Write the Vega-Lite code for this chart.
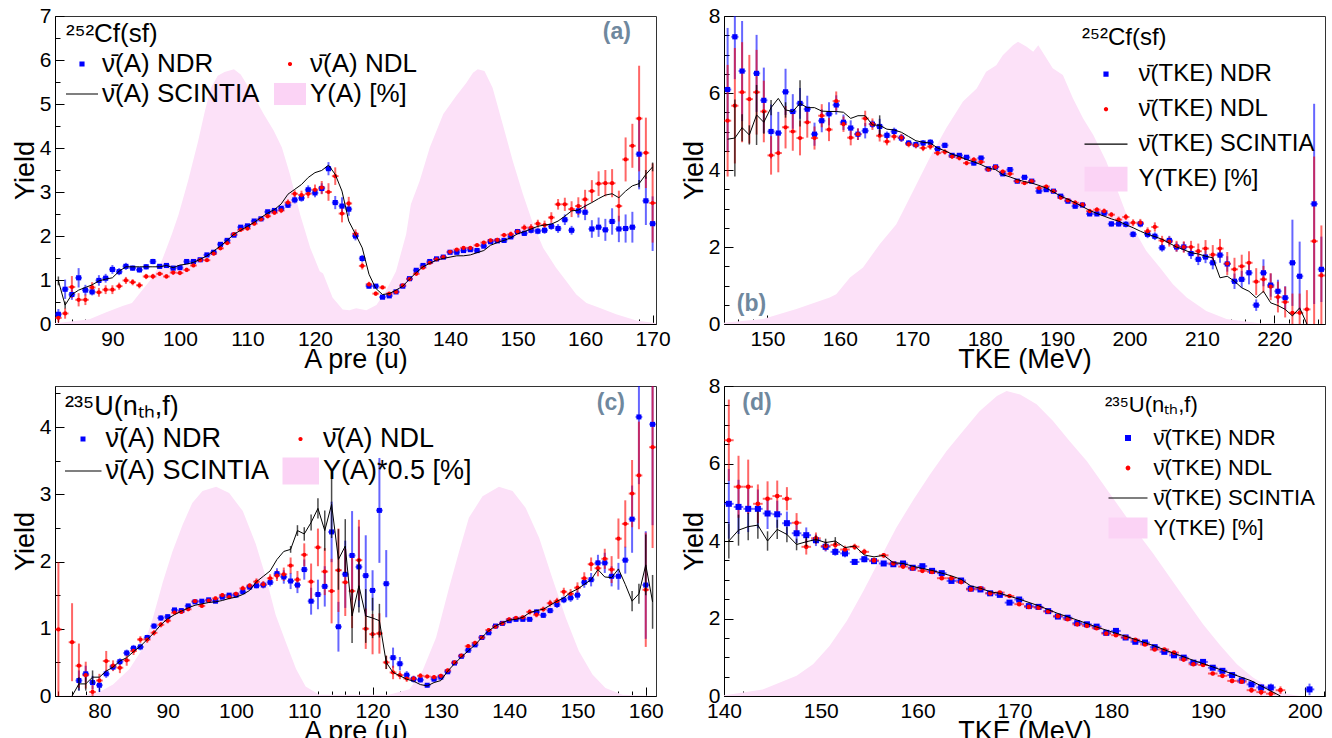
{
"$schema": "https://vega.github.io/schema/vega-lite/v6.json",
"padding": {"left": 10, "top": 4, "right": 0, "bottom": 0},
"background": "white",
"columns": 2,
"spacing": {"row": 62, "column": 68},
"bounds": "flush",
"resolve": {"scale": {"color": "independent", "shape": "independent", "stroke": "independent", "x": "independent", "y": "independent"}, "legend": {"color": "independent", "shape": "independent", "stroke": "independent"}},
"config": {
 "font": "Liberation Sans",
 "view": {"stroke": "#333333", "strokeWidth": 1},
 "axis": {"grid": false, "domainColor": "#000000", "tickColor": "#000000", "labelColor": "#000000", "titleColor": "#000000", "labelFont": "Liberation Sans", "titleFont": "Liberation Sans", "labelFontSize": 21, "titleFontSize": 27, "titleFontWeight": "normal", "tickSize": -9, "labelPadding": 13, "titlePadding": 0, "labelOverlap": false, "labelFlush": false, "labelBound": false, "domainWidth": 1, "tickWidth": 1, "format": "d"},
 "axisX": {"titlePadding": -3},
 "legend": {"orient": "none", "padding": 0, "labelFont": "Liberation Sans", "titleFont": "Liberation Sans", "titleFontWeight": "normal", "labelColor": "#000000", "titleColor": "#000000", "labelLimit": 500, "titleLimit": 500, "symbolStrokeWidth": 1.2}
},
"datasets": {
"aB": [{"x":82,"y":0.22,"e":0.12},{"x":83,"y":0.79,"e":0.22},{"x":84,"y":0.67,"e":0.12},{"x":85,"y":1.05,"e":0.22},{"x":86,"y":0.77,"e":0.12},{"x":87,"y":0.73,"e":0.08},{"x":88,"y":0.99,"e":0.12},{"x":89,"y":1.04,"e":0.1},{"x":90,"y":1.24,"e":0.1},{"x":91,"y":1.19,"e":0.08},{"x":92,"y":1.31,"e":0.08},{"x":93,"y":1.27,"e":0.06},{"x":94,"y":1.23,"e":0.06},{"x":95,"y":1.30,"e":0.06},{"x":96,"y":1.42,"e":0.06},{"x":97,"y":1.31,"e":0.05},{"x":98,"y":1.33,"e":0.05},{"x":99,"y":1.27,"e":0.05},{"x":100,"y":1.28,"e":0.05},{"x":101,"y":1.42,"e":0.04},{"x":102,"y":1.42,"e":0.04},{"x":103,"y":1.46,"e":0.04},{"x":104,"y":1.57,"e":0.04},{"x":105,"y":1.63,"e":0.04},{"x":106,"y":1.81,"e":0.04},{"x":107,"y":1.90,"e":0.04},{"x":108,"y":2.02,"e":0.04},{"x":109,"y":2.20,"e":0.04},{"x":110,"y":2.23,"e":0.04},{"x":111,"y":2.34,"e":0.04},{"x":112,"y":2.39,"e":0.04},{"x":113,"y":2.55,"e":0.04},{"x":114,"y":2.58,"e":0.05},{"x":115,"y":2.63,"e":0.05},{"x":116,"y":2.70,"e":0.06},{"x":117,"y":2.82,"e":0.08},{"x":118,"y":2.86,"e":0.08},{"x":119,"y":3.05,"e":0.1},{"x":120,"y":2.98,"e":0.1},{"x":121,"y":3.08,"e":0.12},{"x":122,"y":3.53,"e":0.15},{"x":123,"y":2.76,"e":0.15},{"x":124,"y":2.68,"e":0.2},{"x":125,"y":2.61,"e":0.15},{"x":126,"y":2.00,"e":0.1},{"x":127,"y":1.49,"e":0.08},{"x":128,"y":0.86,"e":0.05},{"x":129,"y":0.86,"e":0.04},{"x":130,"y":0.61,"e":0.03},{"x":131,"y":0.64,"e":0.03},{"x":132,"y":0.73,"e":0.03},{"x":133,"y":0.86,"e":0.03},{"x":134,"y":1.03,"e":0.03},{"x":135,"y":1.22,"e":0.03},{"x":136,"y":1.33,"e":0.03},{"x":137,"y":1.42,"e":0.03},{"x":138,"y":1.48,"e":0.03},{"x":139,"y":1.52,"e":0.03},{"x":140,"y":1.63,"e":0.03},{"x":141,"y":1.63,"e":0.03},{"x":142,"y":1.67,"e":0.03},{"x":143,"y":1.69,"e":0.03},{"x":144,"y":1.67,"e":0.03},{"x":145,"y":1.77,"e":0.04},{"x":146,"y":1.87,"e":0.04},{"x":147,"y":1.89,"e":0.04},{"x":148,"y":1.90,"e":0.05},{"x":149,"y":1.98,"e":0.05},{"x":150,"y":2.10,"e":0.06},{"x":151,"y":2.06,"e":0.06},{"x":152,"y":2.13,"e":0.07},{"x":153,"y":2.11,"e":0.07},{"x":154,"y":2.13,"e":0.08},{"x":155,"y":2.22,"e":0.08},{"x":156,"y":2.17,"e":0.1},{"x":157,"y":2.37,"e":0.12},{"x":158,"y":2.13,"e":0.1},{"x":159,"y":2.57,"e":0.15},{"x":160,"y":2.54,"e":0.18},{"x":161,"y":2.16,"e":0.2},{"x":162,"y":2.20,"e":0.22},{"x":163,"y":2.14,"e":0.25},{"x":164,"y":2.33,"e":0.3},{"x":165,"y":2.16,"e":0.3},{"x":166,"y":2.17,"e":0.32},{"x":167,"y":2.20,"e":0.35},{"x":168,"y":3.86,"e":0.8},{"x":169,"y":2.80,"e":0.55},{"x":170,"y":2.28,"e":0.62}],
"aR": [{"x":82,"y":0.14,"e":0.1},{"x":83,"y":0.24,"e":0.12},{"x":84,"y":0.84,"e":0.25},{"x":85,"y":0.55,"e":0.15},{"x":86,"y":0.55,"e":0.12},{"x":87,"y":0.83,"e":0.12},{"x":88,"y":0.72,"e":0.1},{"x":89,"y":0.78,"e":0.1},{"x":90,"y":0.78,"e":0.1},{"x":91,"y":0.86,"e":0.08},{"x":92,"y":0.99,"e":0.08},{"x":93,"y":0.95,"e":0.07},{"x":94,"y":0.88,"e":0.07},{"x":95,"y":1.08,"e":0.06},{"x":96,"y":1.08,"e":0.06},{"x":97,"y":1.14,"e":0.05},{"x":98,"y":1.08,"e":0.05},{"x":99,"y":1.17,"e":0.05},{"x":100,"y":1.16,"e":0.05},{"x":101,"y":1.23,"e":0.05},{"x":102,"y":1.33,"e":0.04},{"x":103,"y":1.45,"e":0.04},{"x":104,"y":1.45,"e":0.04},{"x":105,"y":1.60,"e":0.04},{"x":106,"y":1.72,"e":0.04},{"x":107,"y":1.84,"e":0.04},{"x":108,"y":2.04,"e":0.04},{"x":109,"y":2.14,"e":0.04},{"x":110,"y":2.17,"e":0.04},{"x":111,"y":2.28,"e":0.04},{"x":112,"y":2.38,"e":0.04},{"x":113,"y":2.45,"e":0.05},{"x":114,"y":2.53,"e":0.05},{"x":115,"y":2.58,"e":0.06},{"x":116,"y":2.76,"e":0.07},{"x":117,"y":2.96,"e":0.08},{"x":118,"y":2.93,"e":0.1},{"x":119,"y":2.96,"e":0.1},{"x":120,"y":3.05,"e":0.12},{"x":121,"y":3.10,"e":0.15},{"x":122,"y":3.00,"e":0.2},{"x":123,"y":3.36,"e":0.2},{"x":124,"y":2.51,"e":0.2},{"x":125,"y":2.74,"e":0.15},{"x":126,"y":2.05,"e":0.1},{"x":127,"y":1.32,"e":0.08},{"x":128,"y":0.90,"e":0.06},{"x":129,"y":0.69,"e":0.05},{"x":130,"y":0.83,"e":0.04},{"x":131,"y":0.69,"e":0.03},{"x":132,"y":0.73,"e":0.03},{"x":133,"y":0.88,"e":0.03},{"x":134,"y":1.02,"e":0.03},{"x":135,"y":1.14,"e":0.03},{"x":136,"y":1.28,"e":0.03},{"x":137,"y":1.39,"e":0.03},{"x":138,"y":1.47,"e":0.03},{"x":139,"y":1.52,"e":0.03},{"x":140,"y":1.64,"e":0.03},{"x":141,"y":1.69,"e":0.03},{"x":142,"y":1.73,"e":0.03},{"x":143,"y":1.73,"e":0.03},{"x":144,"y":1.79,"e":0.04},{"x":145,"y":1.85,"e":0.04},{"x":146,"y":1.90,"e":0.04},{"x":147,"y":1.91,"e":0.05},{"x":148,"y":2.02,"e":0.05},{"x":149,"y":2.04,"e":0.06},{"x":150,"y":2.10,"e":0.06},{"x":151,"y":2.19,"e":0.07},{"x":152,"y":2.19,"e":0.08},{"x":153,"y":2.28,"e":0.09},{"x":154,"y":2.25,"e":0.1},{"x":155,"y":2.42,"e":0.12},{"x":156,"y":2.72,"e":0.12},{"x":157,"y":2.72,"e":0.15},{"x":158,"y":2.61,"e":0.18},{"x":159,"y":2.68,"e":0.2},{"x":160,"y":2.83,"e":0.22},{"x":161,"y":3.02,"e":0.25},{"x":162,"y":3.19,"e":0.28},{"x":163,"y":3.20,"e":0.3},{"x":164,"y":3.20,"e":0.32},{"x":165,"y":2.68,"e":0.35},{"x":166,"y":3.74,"e":0.5},{"x":167,"y":4.05,"e":0.5},{"x":168,"y":4.67,"e":1.2},{"x":169,"y":3.89,"e":0.8},{"x":170,"y":2.75,"e":0.9}],
"aL": [{"x":82,"y":0.98},{"x":83,"y":0.43},{"x":84,"y":0.67},{"x":85,"y":0.77},{"x":86,"y":0.83},{"x":87,"y":0.89},{"x":88,"y":0.98},{"x":89,"y":1.02},{"x":90,"y":1.05},{"x":91,"y":1.20},{"x":92,"y":1.30},{"x":93,"y":1.30},{"x":94,"y":1.30},{"x":95,"y":1.30},{"x":96,"y":1.30},{"x":97,"y":1.30},{"x":98,"y":1.33},{"x":99,"y":1.28},{"x":100,"y":1.34},{"x":101,"y":1.36},{"x":102,"y":1.40},{"x":103,"y":1.47},{"x":104,"y":1.55},{"x":105,"y":1.66},{"x":106,"y":1.77},{"x":107,"y":1.90},{"x":108,"y":2.04},{"x":109,"y":2.13},{"x":110,"y":2.22},{"x":111,"y":2.31},{"x":112,"y":2.42},{"x":113,"y":2.52},{"x":114,"y":2.60},{"x":115,"y":2.73},{"x":116,"y":2.95},{"x":117,"y":3.06},{"x":118,"y":3.17},{"x":119,"y":3.33},{"x":120,"y":3.44},{"x":121,"y":3.49},{"x":122,"y":3.61},{"x":123,"y":3.40},{"x":124,"y":3.02},{"x":125,"y":2.34},{"x":126,"y":2.04},{"x":127,"y":1.73},{"x":128,"y":1.13},{"x":129,"y":0.81},{"x":130,"y":0.67},{"x":131,"y":0.69},{"x":132,"y":0.77},{"x":133,"y":0.86},{"x":134,"y":1.02},{"x":135,"y":1.17},{"x":136,"y":1.30},{"x":137,"y":1.38},{"x":138,"y":1.45},{"x":139,"y":1.49},{"x":140,"y":1.52},{"x":141,"y":1.55},{"x":142,"y":1.55},{"x":143,"y":1.57},{"x":144,"y":1.62},{"x":145,"y":1.67},{"x":146,"y":1.79},{"x":147,"y":1.85},{"x":148,"y":1.90},{"x":149,"y":1.96},{"x":150,"y":2.05},{"x":151,"y":2.10},{"x":152,"y":2.16},{"x":153,"y":2.22},{"x":154,"y":2.25},{"x":155,"y":2.27},{"x":156,"y":2.34},{"x":157,"y":2.45},{"x":158,"y":2.57},{"x":159,"y":2.59},{"x":160,"y":2.68},{"x":161,"y":2.76},{"x":162,"y":2.85},{"x":163,"y":2.93},{"x":164,"y":2.96},{"x":165,"y":2.87},{"x":166,"y":3.02},{"x":167,"y":3.14},{"x":168,"y":3.19},{"x":169,"y":3.40},{"x":170,"y":3.57}],
"aE": [{"x":82,"y":0.98,"e":0.1},{"x":83,"y":0.43,"e":0.08},{"x":168,"y":3.19,"e":0.08},{"x":169,"y":3.40,"e":0.1},{"x":170,"y":3.57,"e":0.1}],
"aY": [{"x":81.5,"y":0.02},{"x":82.2,"y":0.03},{"x":86.6,"y":0.11},{"x":89.0,"y":0.26},{"x":91.5,"y":0.41},{"x":92.9,"y":0.48},{"x":93.9,"y":0.67},{"x":95.9,"y":1.05},{"x":97.3,"y":1.43},{"x":98.8,"y":2.04},{"x":99.8,"y":2.49},{"x":101.2,"y":3.25},{"x":102.7,"y":4.16},{"x":103.7,"y":4.84},{"x":104.6,"y":5.37},{"x":105.6,"y":5.64},{"x":106.6,"y":5.73},{"x":108.0,"y":5.79},{"x":109.0,"y":5.67},{"x":110.5,"y":5.30},{"x":112.4,"y":4.77},{"x":113.9,"y":4.39},{"x":115.1,"y":4.01},{"x":116.3,"y":3.40},{"x":117.8,"y":2.49},{"x":119.3,"y":1.73},{"x":120.7,"y":1.20},{"x":121.2,"y":1.15},{"x":122.6,"y":0.60},{"x":124.1,"y":0.33},{"x":125.1,"y":0.31},{"x":126.1,"y":0.36},{"x":127.6,"y":0.31},{"x":129.1,"y":0.43},{"x":130.5,"y":0.75},{"x":132.0,"y":1.20},{"x":133.5,"y":2.04},{"x":134.2,"y":2.72},{"x":135.5,"y":3.25},{"x":137.0,"y":4.01},{"x":139.0,"y":4.77},{"x":140.9,"y":5.18},{"x":142.4,"y":5.48},{"x":143.4,"y":5.71},{"x":144.1,"y":5.79},{"x":145.1,"y":5.75},{"x":146.3,"y":5.37},{"x":147.8,"y":4.54},{"x":149.3,"y":3.70},{"x":150.8,"y":2.95},{"x":152.3,"y":2.27},{"x":153.8,"y":1.73},{"x":155.7,"y":1.28},{"x":157.2,"y":0.98},{"x":158.7,"y":0.67},{"x":160.2,"y":0.48},{"x":162.1,"y":0.37},{"x":164.6,"y":0.22},{"x":167.6,"y":0.08},{"x":170.0,"y":0.03},{"x":170.5,"y":0.02}],
"bB": [{"x":144.5,"y":6.09,"e":1.6},{"x":145.5,"y":7.46,"e":1.1},{"x":146.5,"y":6.57,"e":1.3},{"x":148.5,"y":6.51,"e":1.0},{"x":149.5,"y":5.81,"e":0.85},{"x":150.5,"y":5.00,"e":0.7},{"x":151.5,"y":4.96,"e":0.55},{"x":152.5,"y":6.03,"e":0.6},{"x":153.5,"y":5.52,"e":0.45},{"x":154.5,"y":5.73,"e":0.4},{"x":155.5,"y":5.58,"e":0.35},{"x":156.5,"y":4.93,"e":0.3},{"x":157.5,"y":5.28,"e":0.3},{"x":158.5,"y":5.46,"e":0.3},{"x":159.5,"y":5.69,"e":0.25},{"x":160.5,"y":5.24,"e":0.2},{"x":161.5,"y":5.09,"e":0.2},{"x":162.5,"y":4.93,"e":0.15},{"x":163.5,"y":5.02,"e":0.2},{"x":164.5,"y":5.19,"e":0.1},{"x":165.5,"y":5.13,"e":0.2},{"x":166.5,"y":4.90,"e":0.1},{"x":167.5,"y":5.00,"e":0.1},{"x":168.5,"y":4.83,"e":0.1},{"x":169.5,"y":4.70,"e":0.08},{"x":170.5,"y":4.66,"e":0.08},{"x":171.5,"y":4.70,"e":0.08},{"x":172.5,"y":4.72,"e":0.08},{"x":173.5,"y":4.55,"e":0.07},{"x":174.5,"y":4.64,"e":0.07},{"x":175.5,"y":4.38,"e":0.06},{"x":176.5,"y":4.38,"e":0.06},{"x":177.5,"y":4.33,"e":0.06},{"x":178.5,"y":4.18,"e":0.06},{"x":179.5,"y":4.31,"e":0.06},{"x":180.5,"y":4.03,"e":0.05},{"x":181.5,"y":4.08,"e":0.05},{"x":182.5,"y":3.90,"e":0.05},{"x":183.5,"y":4.01,"e":0.05},{"x":184.5,"y":3.71,"e":0.05},{"x":185.5,"y":3.81,"e":0.05},{"x":186.5,"y":3.71,"e":0.05},{"x":187.5,"y":3.45,"e":0.05},{"x":188.5,"y":3.49,"e":0.05},{"x":189.5,"y":3.45,"e":0.05},{"x":190.5,"y":3.32,"e":0.05},{"x":191.5,"y":3.19,"e":0.05},{"x":192.5,"y":3.06,"e":0.06},{"x":193.5,"y":3.09,"e":0.06},{"x":194.5,"y":2.86,"e":0.06},{"x":195.5,"y":2.86,"e":0.06},{"x":196.5,"y":2.88,"e":0.07},{"x":197.5,"y":2.60,"e":0.07},{"x":198.5,"y":2.60,"e":0.07},{"x":199.5,"y":2.59,"e":0.08},{"x":200.5,"y":2.33,"e":0.08},{"x":201.5,"y":2.60,"e":0.09},{"x":202.5,"y":2.33,"e":0.1},{"x":203.5,"y":2.28,"e":0.1},{"x":204.5,"y":1.98,"e":0.1},{"x":205.5,"y":2.17,"e":0.12},{"x":206.5,"y":2.00,"e":0.12},{"x":207.5,"y":2.00,"e":0.13},{"x":208.5,"y":1.83,"e":0.14},{"x":209.5,"y":1.68,"e":0.15},{"x":210.5,"y":1.74,"e":0.16},{"x":211.5,"y":1.59,"e":0.17},{"x":212.5,"y":1.79,"e":0.2},{"x":213.5,"y":1.56,"e":0.2},{"x":214.5,"y":1.11,"e":0.2},{"x":215.5,"y":1.16,"e":0.22},{"x":216.5,"y":1.33,"e":0.3},{"x":217.5,"y":0.49,"e":0.15},{"x":218.5,"y":1.33,"e":0.35},{"x":219.5,"y":1.01,"e":0.3},{"x":220.5,"y":0.85,"e":0.3},{"x":221.5,"y":0.68,"e":0.3},{"x":222.5,"y":1.59,"e":1.12},{"x":223.5,"y":1.24,"e":0.9},{"x":225.5,"y":3.12,"e":2.6},{"x":226.5,"y":1.42,"e":0.85}],
"bR": [{"x":144.5,"y":5.28,"e":1.45},{"x":145.5,"y":5.67,"e":1.5},{"x":146.5,"y":6.02,"e":1.3},{"x":147.5,"y":5.84,"e":1.15},{"x":148.5,"y":6.02,"e":1.1},{"x":149.5,"y":5.52,"e":0.8},{"x":150.5,"y":4.38,"e":0.5},{"x":151.5,"y":4.44,"e":0.5},{"x":152.5,"y":5.11,"e":0.55},{"x":153.5,"y":5.00,"e":0.5},{"x":154.5,"y":4.83,"e":0.45},{"x":155.5,"y":5.24,"e":0.4},{"x":156.5,"y":4.83,"e":0.3},{"x":157.5,"y":5.41,"e":0.3},{"x":158.5,"y":5.05,"e":0.3},{"x":159.5,"y":5.79,"e":0.25},{"x":160.5,"y":5.19,"e":0.2},{"x":161.5,"y":4.84,"e":0.2},{"x":162.5,"y":4.93,"e":0.15},{"x":163.5,"y":5.34,"e":0.2},{"x":164.5,"y":5.19,"e":0.15},{"x":165.5,"y":4.89,"e":0.15},{"x":166.5,"y":4.74,"e":0.1},{"x":167.5,"y":4.87,"e":0.1},{"x":168.5,"y":4.84,"e":0.1},{"x":169.5,"y":4.67,"e":0.08},{"x":170.5,"y":4.64,"e":0.08},{"x":171.5,"y":4.57,"e":0.08},{"x":172.5,"y":4.61,"e":0.08},{"x":173.5,"y":4.44,"e":0.07},{"x":174.5,"y":4.47,"e":0.07},{"x":175.5,"y":4.35,"e":0.06},{"x":176.5,"y":4.31,"e":0.06},{"x":177.5,"y":4.18,"e":0.06},{"x":178.5,"y":4.27,"e":0.06},{"x":179.5,"y":4.21,"e":0.06},{"x":180.5,"y":4.01,"e":0.05},{"x":181.5,"y":4.08,"e":0.05},{"x":182.5,"y":3.96,"e":0.05},{"x":183.5,"y":3.90,"e":0.05},{"x":184.5,"y":3.71,"e":0.05},{"x":185.5,"y":3.66,"e":0.05},{"x":186.5,"y":3.71,"e":0.05},{"x":187.5,"y":3.53,"e":0.05},{"x":188.5,"y":3.57,"e":0.05},{"x":189.5,"y":3.45,"e":0.05},{"x":190.5,"y":3.28,"e":0.05},{"x":191.5,"y":3.21,"e":0.05},{"x":192.5,"y":3.15,"e":0.06},{"x":193.5,"y":3.10,"e":0.06},{"x":194.5,"y":2.93,"e":0.06},{"x":195.5,"y":2.97,"e":0.06},{"x":196.5,"y":2.93,"e":0.07},{"x":197.5,"y":2.84,"e":0.07},{"x":198.5,"y":2.71,"e":0.08},{"x":199.5,"y":2.78,"e":0.08},{"x":200.5,"y":2.63,"e":0.09},{"x":201.5,"y":2.63,"e":0.1},{"x":202.5,"y":2.41,"e":0.1},{"x":203.5,"y":2.52,"e":0.12},{"x":204.5,"y":2.17,"e":0.12},{"x":205.5,"y":2.14,"e":0.13},{"x":206.5,"y":2.02,"e":0.14},{"x":207.5,"y":2.00,"e":0.15},{"x":208.5,"y":2.00,"e":0.16},{"x":209.5,"y":1.89,"e":0.2},{"x":210.5,"y":1.96,"e":0.22},{"x":211.5,"y":1.80,"e":0.25},{"x":212.5,"y":1.96,"e":0.25},{"x":213.5,"y":1.57,"e":0.3},{"x":214.5,"y":1.42,"e":0.3},{"x":215.5,"y":1.50,"e":0.3},{"x":216.5,"y":1.59,"e":0.3},{"x":217.5,"y":1.10,"e":0.35},{"x":218.5,"y":1.16,"e":0.35},{"x":219.5,"y":0.97,"e":0.35},{"x":220.5,"y":0.70,"e":0.4},{"x":221.5,"y":0.57,"e":0.4},{"x":222.5,"y":0.29,"e":0.5},{"x":223.5,"y":0.29,"e":0.5},{"x":224.5,"y":0.38,"e":0.5},{"x":225.5,"y":2.15,"e":2.2},{"x":226.5,"y":1.26,"e":1.3}],
"bL": [{"x":144.5,"y":4.80},{"x":145.5,"y":4.83},{"x":146.5,"y":5.10},{"x":147.5,"y":4.91},{"x":148.5,"y":5.43},{"x":149.5,"y":5.24},{"x":150.5,"y":5.62},{"x":151.5,"y":5.86},{"x":152.5,"y":5.56},{"x":153.5,"y":5.52},{"x":154.5,"y":5.73},{"x":155.5,"y":5.62},{"x":156.5,"y":5.62},{"x":157.5,"y":5.53},{"x":158.5,"y":5.52},{"x":159.5,"y":5.52},{"x":160.5,"y":5.50},{"x":161.5,"y":5.34},{"x":162.5,"y":5.41},{"x":163.5,"y":5.41},{"x":164.5,"y":5.17},{"x":165.5,"y":5.16},{"x":166.5,"y":5.06},{"x":167.5,"y":5.04},{"x":168.5,"y":4.98},{"x":169.5,"y":4.87},{"x":170.5,"y":4.76},{"x":171.5,"y":4.72},{"x":172.5,"y":4.70},{"x":173.5,"y":4.57},{"x":174.5,"y":4.50},{"x":175.5,"y":4.41},{"x":176.5,"y":4.35},{"x":177.5,"y":4.27},{"x":178.5,"y":4.21},{"x":179.5,"y":4.14},{"x":180.5,"y":4.05},{"x":181.5,"y":4.01},{"x":182.5,"y":3.88},{"x":183.5,"y":3.82},{"x":184.5,"y":3.75},{"x":185.5,"y":3.70},{"x":186.5,"y":3.66},{"x":187.5,"y":3.60},{"x":188.5,"y":3.53},{"x":189.5,"y":3.43},{"x":190.5,"y":3.32},{"x":191.5,"y":3.24},{"x":192.5,"y":3.15},{"x":193.5,"y":3.05},{"x":194.5,"y":2.95},{"x":195.5,"y":2.87},{"x":196.5,"y":2.80},{"x":197.5,"y":2.73},{"x":198.5,"y":2.67},{"x":199.5,"y":2.58},{"x":200.5,"y":2.50},{"x":201.5,"y":2.41},{"x":202.5,"y":2.33},{"x":203.5,"y":2.27},{"x":204.5,"y":2.20},{"x":205.5,"y":2.10},{"x":206.5,"y":2.00},{"x":207.5,"y":1.93},{"x":208.5,"y":1.85},{"x":209.5,"y":1.82},{"x":210.5,"y":1.76},{"x":211.5,"y":1.72},{"x":212.5,"y":1.20},{"x":213.5,"y":1.24},{"x":214.5,"y":1.11},{"x":215.5,"y":0.94},{"x":216.5,"y":0.85},{"x":217.5,"y":0.68},{"x":218.5,"y":0.85},{"x":219.5,"y":0.55},{"x":220.5,"y":0.48},{"x":221.5,"y":0.38},{"x":222.5,"y":0.21},{"x":223.5,"y":0.42},{"x":224.5,"y":0.0}],
"bE": [{"x":145.5,"y":4.83,"e":1.0},{"x":146.5,"y":5.10,"e":0.35},{"x":147.5,"y":4.91,"e":0.25},{"x":148.5,"y":5.43,"e":0.78},{"x":149.5,"y":5.24,"e":0.3},{"x":150.5,"y":5.62,"e":0.2},{"x":152.5,"y":5.56,"e":0.2},{"x":154.5,"y":5.73,"e":0.6},{"x":165.5,"y":5.16,"e":0.26}],
"bY": [{"x":144.0,"y":0.03},{"x":144.3,"y":0.04},{"x":149.4,"y":0.13},{"x":154,"y":0.39},{"x":157.2,"y":0.60},{"x":158.6,"y":0.69},{"x":159.5,"y":0.77},{"x":161.4,"y":1.21},{"x":163.2,"y":1.47},{"x":165.5,"y":2.07},{"x":167.8,"y":2.59},{"x":170.1,"y":3.45},{"x":172.4,"y":4.31},{"x":174.7,"y":5.09},{"x":177,"y":5.78},{"x":178.9,"y":6.12},{"x":180.2,"y":6.55},{"x":181.6,"y":6.72},{"x":182.5,"y":6.98},{"x":183.9,"y":7.24},{"x":184.6,"y":7.33},{"x":185.8,"y":7.2},{"x":186.7,"y":7.07},{"x":187.4,"y":7.24},{"x":189.4,"y":6.64},{"x":190.8,"y":6.47},{"x":192.2,"y":5.86},{"x":193.6,"y":5.34},{"x":195,"y":4.91},{"x":196.8,"y":4.22},{"x":198.2,"y":3.53},{"x":199.6,"y":2.84},{"x":201,"y":2.33},{"x":202.3,"y":1.90},{"x":204.2,"y":1.47},{"x":206,"y":1.03},{"x":207.9,"y":0.69},{"x":210.6,"y":0.34},{"x":213.4,"y":0.13},{"x":218,"y":0.02},{"x":227,"y":0}],
"cB": [{"x":77,"y":0.23,"e":0.15},{"x":78,"y":0.33,"e":0.12},{"x":79,"y":0.20,"e":0.1},{"x":80,"y":0.16,"e":0.1},{"x":81,"y":0.33,"e":0.06},{"x":82,"y":0.43,"e":0.05},{"x":83,"y":0.51,"e":0.05},{"x":84,"y":0.64,"e":0.05},{"x":85,"y":0.71,"e":0.05},{"x":86,"y":0.73,"e":0.05},{"x":87,"y":0.87,"e":0.04},{"x":88,"y":1.04,"e":0.04},{"x":89,"y":1.16,"e":0.04},{"x":90,"y":1.18,"e":0.03},{"x":91,"y":1.28,"e":0.03},{"x":92,"y":1.27,"e":0.03},{"x":93,"y":1.34,"e":0.03},{"x":94,"y":1.40,"e":0.03},{"x":95,"y":1.41,"e":0.03},{"x":96,"y":1.43,"e":0.03},{"x":97,"y":1.41,"e":0.03},{"x":98,"y":1.47,"e":0.03},{"x":99,"y":1.50,"e":0.03},{"x":100,"y":1.50,"e":0.03},{"x":101,"y":1.55,"e":0.03},{"x":102,"y":1.62,"e":0.04},{"x":103,"y":1.64,"e":0.04},{"x":104,"y":1.65,"e":0.05},{"x":105,"y":1.69,"e":0.06},{"x":106,"y":1.82,"e":0.08},{"x":107,"y":1.77,"e":0.1},{"x":108,"y":1.71,"e":0.12},{"x":109,"y":1.65,"e":0.12},{"x":110,"y":1.88,"e":0.15},{"x":111,"y":1.41,"e":0.2},{"x":112,"y":1.51,"e":0.22},{"x":113,"y":1.63,"e":0.3},{"x":114,"y":2.44,"e":0.45},{"x":115,"y":1.03,"e":0.37},{"x":116,"y":1.81,"e":0.5},{"x":117,"y":2.09,"e":0.66},{"x":118,"y":1.92,"e":0.6},{"x":119,"y":1.79,"e":0.6},{"x":120,"y":1.57,"e":0.3},{"x":121,"y":2.76,"e":0.78},{"x":122,"y":1.67,"e":0.5},{"x":123,"y":0.57,"e":0.15},{"x":124,"y":0.48,"e":0.1},{"x":125,"y":0.31,"e":0.06},{"x":126,"y":0.25,"e":0.05},{"x":127,"y":0.24,"e":0.04},{"x":128,"y":0.16,"e":0.03},{"x":129,"y":0.25,"e":0.03},{"x":130,"y":0.28,"e":0.03},{"x":131,"y":0.36,"e":0.03},{"x":132,"y":0.49,"e":0.03},{"x":133,"y":0.59,"e":0.03},{"x":134,"y":0.68,"e":0.03},{"x":135,"y":0.76,"e":0.03},{"x":136,"y":0.87,"e":0.03},{"x":137,"y":0.94,"e":0.03},{"x":138,"y":1.04,"e":0.03},{"x":139,"y":1.08,"e":0.03},{"x":140,"y":1.12,"e":0.03},{"x":141,"y":1.14,"e":0.03},{"x":142,"y":1.14,"e":0.03},{"x":143,"y":1.14,"e":0.03},{"x":144,"y":1.25,"e":0.04},{"x":145,"y":1.20,"e":0.04},{"x":146,"y":1.27,"e":0.04},{"x":147,"y":1.36,"e":0.05},{"x":148,"y":1.43,"e":0.05},{"x":149,"y":1.46,"e":0.06},{"x":150,"y":1.50,"e":0.07},{"x":151,"y":1.69,"e":0.08},{"x":152,"y":1.73,"e":0.1},{"x":153,"y":1.98,"e":0.12},{"x":154,"y":1.98,"e":0.15},{"x":155,"y":1.78,"e":0.15},{"x":156,"y":1.78,"e":0.2},{"x":157,"y":2.02,"e":0.2},{"x":158,"y":2.63,"e":0.5},{"x":159,"y":4.15,"e":1.0},{"x":160,"y":1.65,"e":0.8},{"x":161,"y":4.04,"e":1.5}],
"cR": [{"x":74,"y":0.99,"e":1.0},{"x":76,"y":0.80,"e":0.58},{"x":77,"y":0.45,"e":0.33},{"x":78,"y":0.31,"e":0.2},{"x":79,"y":0.06,"e":0.1},{"x":80,"y":0.23,"e":0.1},{"x":81,"y":0.52,"e":0.15},{"x":82,"y":0.45,"e":0.08},{"x":83,"y":0.42,"e":0.08},{"x":84,"y":0.53,"e":0.08},{"x":85,"y":0.67,"e":0.06},{"x":86,"y":0.84,"e":0.05},{"x":87,"y":0.84,"e":0.05},{"x":88,"y":0.94,"e":0.04},{"x":89,"y":1.06,"e":0.04},{"x":90,"y":1.12,"e":0.04},{"x":91,"y":1.24,"e":0.03},{"x":92,"y":1.25,"e":0.03},{"x":93,"y":1.29,"e":0.03},{"x":94,"y":1.41,"e":0.03},{"x":95,"y":1.34,"e":0.03},{"x":96,"y":1.42,"e":0.03},{"x":97,"y":1.45,"e":0.03},{"x":98,"y":1.50,"e":0.03},{"x":99,"y":1.47,"e":0.03},{"x":100,"y":1.52,"e":0.03},{"x":101,"y":1.60,"e":0.04},{"x":102,"y":1.64,"e":0.04},{"x":103,"y":1.70,"e":0.05},{"x":104,"y":1.66,"e":0.05},{"x":105,"y":1.75,"e":0.06},{"x":106,"y":1.79,"e":0.08},{"x":107,"y":1.81,"e":0.1},{"x":108,"y":1.94,"e":0.12},{"x":109,"y":1.73,"e":0.13},{"x":110,"y":2.10,"e":0.17},{"x":111,"y":1.70,"e":0.27},{"x":112,"y":2.21,"e":0.28},{"x":113,"y":1.85,"e":0.35},{"x":114,"y":1.56,"e":0.48},{"x":115,"y":1.87,"e":0.62},{"x":116,"y":1.69,"e":0.5},{"x":117,"y":1.56,"e":0.55},{"x":118,"y":2.02,"e":0.6},{"x":119,"y":1.00,"e":0.3},{"x":120,"y":0.92,"e":0.3},{"x":121,"y":0.93,"e":0.3},{"x":122,"y":0.50,"e":0.1},{"x":123,"y":0.35,"e":0.1},{"x":124,"y":0.31,"e":0.06},{"x":125,"y":0.26,"e":0.05},{"x":126,"y":0.26,"e":0.04},{"x":127,"y":0.30,"e":0.04},{"x":128,"y":0.29,"e":0.03},{"x":129,"y":0.28,"e":0.03},{"x":130,"y":0.30,"e":0.03},{"x":131,"y":0.38,"e":0.03},{"x":132,"y":0.50,"e":0.03},{"x":133,"y":0.60,"e":0.03},{"x":134,"y":0.74,"e":0.03},{"x":135,"y":0.79,"e":0.03},{"x":136,"y":0.87,"e":0.03},{"x":137,"y":0.98,"e":0.03},{"x":138,"y":1.03,"e":0.03},{"x":139,"y":1.08,"e":0.03},{"x":140,"y":1.14,"e":0.03},{"x":141,"y":1.16,"e":0.03},{"x":142,"y":1.17,"e":0.03},{"x":143,"y":1.25,"e":0.04},{"x":144,"y":1.21,"e":0.04},{"x":145,"y":1.29,"e":0.04},{"x":146,"y":1.38,"e":0.05},{"x":147,"y":1.41,"e":0.05},{"x":148,"y":1.55,"e":0.06},{"x":149,"y":1.52,"e":0.07},{"x":150,"y":1.61,"e":0.08},{"x":151,"y":1.75,"e":0.09},{"x":152,"y":1.96,"e":0.1},{"x":153,"y":1.90,"e":0.12},{"x":154,"y":2.04,"e":0.15},{"x":155,"y":1.88,"e":0.2},{"x":156,"y":2.34,"e":0.3},{"x":157,"y":2.56,"e":0.35},{"x":158,"y":3.01,"e":0.5},{"x":159,"y":3.28,"e":0.8},{"x":160,"y":1.58,"e":0.85},{"x":161,"y":3.70,"e":1.5}],
"cL": [{"x":76,"y":0.0},{"x":77,"y":0.18},{"x":78,"y":0.18},{"x":79,"y":0.28},{"x":80,"y":0.28},{"x":81,"y":0.37},{"x":82,"y":0.43},{"x":83,"y":0.52},{"x":84,"y":0.57},{"x":85,"y":0.66},{"x":86,"y":0.74},{"x":87,"y":0.84},{"x":88,"y":0.94},{"x":89,"y":1.06},{"x":90,"y":1.15},{"x":91,"y":1.21},{"x":92,"y":1.26},{"x":93,"y":1.31},{"x":94,"y":1.35},{"x":95,"y":1.37},{"x":96,"y":1.39},{"x":97,"y":1.40},{"x":98,"y":1.42},{"x":99,"y":1.45},{"x":100,"y":1.47},{"x":101,"y":1.51},{"x":102,"y":1.57},{"x":103,"y":1.70},{"x":104,"y":1.78},{"x":105,"y":1.86},{"x":106,"y":2.03},{"x":107,"y":2.15},{"x":108,"y":2.18},{"x":109,"y":2.46},{"x":110,"y":2.41},{"x":111,"y":2.58},{"x":112,"y":2.79},{"x":113,"y":2.46},{"x":114,"y":2.85},{"x":115,"y":2.03},{"x":116,"y":2.23},{"x":117,"y":1.19},{"x":118,"y":1.64},{"x":119,"y":1.19},{"x":120,"y":1.16},{"x":121,"y":1.12},{"x":122,"y":0.50},{"x":123,"y":0.35},{"x":124,"y":0.30},{"x":125,"y":0.25},{"x":126,"y":0.22},{"x":127,"y":0.17},{"x":128,"y":0.15},{"x":129,"y":0.20},{"x":130,"y":0.23},{"x":131,"y":0.37},{"x":132,"y":0.48},{"x":133,"y":0.58},{"x":134,"y":0.67},{"x":135,"y":0.76},{"x":136,"y":0.87},{"x":137,"y":0.97},{"x":138,"y":1.04},{"x":139,"y":1.09},{"x":140,"y":1.13},{"x":141,"y":1.14},{"x":142,"y":1.17},{"x":143,"y":1.24},{"x":144,"y":1.27},{"x":145,"y":1.29},{"x":146,"y":1.35},{"x":147,"y":1.41},{"x":148,"y":1.46},{"x":149,"y":1.54},{"x":150,"y":1.59},{"x":151,"y":1.66},{"x":152,"y":1.73},{"x":153,"y":1.88},{"x":154,"y":1.77},{"x":155,"y":1.76},{"x":156,"y":1.89},{"x":157,"y":1.66},{"x":158,"y":1.41},{"x":159,"y":1.52},{"x":160,"y":1.95},{"x":161,"y":1.40}],
"cE": [{"x":77,"y":0.18,"e":0.1},{"x":78,"y":0.18,"e":0.1},{"x":79,"y":0.28,"e":0.1},{"x":108,"y":2.18,"e":0.05},{"x":109,"y":2.46,"e":0.08},{"x":110,"y":2.41,"e":0.1},{"x":111,"y":2.58,"e":0.12},{"x":112,"y":2.79,"e":0.15},{"x":113,"y":2.46,"e":0.3},{"x":114,"y":2.85,"e":0.5},{"x":115,"y":2.03,"e":0.45},{"x":116,"y":2.23,"e":0.4},{"x":117,"y":1.19,"e":0.4},{"x":118,"y":1.64,"e":0.4},{"x":119,"y":1.19,"e":0.4},{"x":120,"y":1.16,"e":0.3},{"x":121,"y":1.12,"e":0.25},{"x":122,"y":0.50,"e":0.1},{"x":158,"y":1.41,"e":0.15},{"x":159,"y":1.52,"e":0.15},{"x":160,"y":1.95,"e":0.45},{"x":161,"y":1.40,"e":0.4}],
"cY": [{"x":73.5,"y":0},{"x":78,"y":0.01},{"x":80,"y":0.06},{"x":82,"y":0.17},{"x":84.4,"y":0.40},{"x":86.3,"y":0.70},{"x":87.8,"y":1.15},{"x":89.3,"y":1.70},{"x":90.7,"y":2.15},{"x":92.2,"y":2.55},{"x":93.6,"y":2.87},{"x":95.1,"y":3.05},{"x":97.1,"y":3.11},{"x":99,"y":3.02},{"x":101,"y":2.75},{"x":102.9,"y":2.26},{"x":104.4,"y":1.76},{"x":105.8,"y":1.21},{"x":107.3,"y":0.80},{"x":108.8,"y":0.40},{"x":110.2,"y":0.14},{"x":112.2,"y":0.02},{"x":122.4,"y":0.02},{"x":125.4,"y":0.10},{"x":127.3,"y":0.37},{"x":129.3,"y":0.87},{"x":131.2,"y":1.61},{"x":132.7,"y":2.16},{"x":134.1,"y":2.65},{"x":136.1,"y":2.97},{"x":138.5,"y":3.11},{"x":140.5,"y":3.05},{"x":142.4,"y":2.80},{"x":144.4,"y":2.35},{"x":146.3,"y":1.76},{"x":148.3,"y":1.16},{"x":150.2,"y":0.67},{"x":152.2,"y":0.32},{"x":154.1,"y":0.12},{"x":156.6,"y":0.02},{"x":161.5,"y":0}],
"dB": [{"x":140.5,"y":4.96,"e":0.9},{"x":141.5,"y":4.88,"e":0.7},{"x":142.5,"y":4.83,"e":0.6},{"x":143.5,"y":4.83,"e":0.5},{"x":144.5,"y":4.71,"e":0.4},{"x":145.5,"y":4.69,"e":0.35},{"x":146.5,"y":4.46,"e":0.3},{"x":147.5,"y":4.20,"e":0.25},{"x":148.5,"y":4.15,"e":0.2},{"x":149.5,"y":4.02,"e":0.15},{"x":150.5,"y":3.85,"e":0.12},{"x":151.5,"y":3.72,"e":0.1},{"x":152.5,"y":3.68,"e":0.1},{"x":153.5,"y":3.46,"e":0.08},{"x":154.5,"y":3.53,"e":0.08},{"x":155.5,"y":3.48,"e":0.07},{"x":156.5,"y":3.42,"e":0.06},{"x":157.5,"y":3.40,"e":0.05},{"x":158.5,"y":3.42,"e":0.05},{"x":159.5,"y":3.31,"e":0.05},{"x":160.5,"y":3.35,"e":0.05},{"x":161.5,"y":3.23,"e":0.05},{"x":162.5,"y":3.17,"e":0.05},{"x":163.5,"y":2.97,"e":0.05},{"x":164.5,"y":2.98,"e":0.05},{"x":165.5,"y":2.77,"e":0.04},{"x":166.5,"y":2.75,"e":0.04},{"x":167.5,"y":2.65,"e":0.04},{"x":168.5,"y":2.61,"e":0.04},{"x":169.5,"y":2.41,"e":0.04},{"x":170.5,"y":2.49,"e":0.04},{"x":171.5,"y":2.32,"e":0.04},{"x":172.5,"y":2.30,"e":0.04},{"x":173.5,"y":2.19,"e":0.04},{"x":174.5,"y":2.05,"e":0.04},{"x":175.5,"y":2.02,"e":0.04},{"x":176.5,"y":1.88,"e":0.04},{"x":177.5,"y":1.85,"e":0.04},{"x":178.5,"y":1.79,"e":0.04},{"x":179.5,"y":1.63,"e":0.04},{"x":180.5,"y":1.68,"e":0.04},{"x":181.5,"y":1.51,"e":0.04},{"x":182.5,"y":1.40,"e":0.04},{"x":183.5,"y":1.38,"e":0.04},{"x":184.5,"y":1.26,"e":0.04},{"x":185.5,"y":1.14,"e":0.04},{"x":186.5,"y":1.05,"e":0.04},{"x":187.5,"y":0.99,"e":0.04},{"x":188.5,"y":0.86,"e":0.05},{"x":189.5,"y":0.88,"e":0.05},{"x":190.5,"y":0.73,"e":0.05},{"x":191.5,"y":0.65,"e":0.05},{"x":192.5,"y":0.54,"e":0.06},{"x":193.5,"y":0.40,"e":0.06},{"x":194.5,"y":0.30,"e":0.07},{"x":195.5,"y":0.22,"e":0.08},{"x":196.5,"y":0.22,"e":0.1},{"x":200.5,"y":0.17,"e":0.15}],
"dR": [{"x":140.5,"y":6.60,"e":1.05},{"x":141.5,"y":5.40,"e":0.8},{"x":142.5,"y":5.40,"e":0.7},{"x":143.5,"y":4.96,"e":0.5},{"x":144.5,"y":5.09,"e":0.45},{"x":145.5,"y":5.16,"e":0.4},{"x":146.5,"y":5.09,"e":0.3},{"x":147.5,"y":4.47,"e":0.25},{"x":148.5,"y":3.85,"e":0.2},{"x":149.5,"y":4.07,"e":0.15},{"x":150.5,"y":3.87,"e":0.12},{"x":151.5,"y":3.90,"e":0.1},{"x":152.5,"y":3.78,"e":0.1},{"x":153.5,"y":3.85,"e":0.08},{"x":154.5,"y":3.72,"e":0.08},{"x":155.5,"y":3.50,"e":0.07},{"x":156.5,"y":3.63,"e":0.06},{"x":157.5,"y":3.42,"e":0.05},{"x":158.5,"y":3.34,"e":0.05},{"x":159.5,"y":3.29,"e":0.05},{"x":160.5,"y":3.23,"e":0.05},{"x":161.5,"y":3.20,"e":0.05},{"x":162.5,"y":3.04,"e":0.05},{"x":163.5,"y":3.04,"e":0.05},{"x":164.5,"y":2.94,"e":0.05},{"x":165.5,"y":2.75,"e":0.04},{"x":166.5,"y":2.78,"e":0.04},{"x":167.5,"y":2.65,"e":0.04},{"x":168.5,"y":2.67,"e":0.04},{"x":169.5,"y":2.58,"e":0.04},{"x":170.5,"y":2.37,"e":0.04},{"x":171.5,"y":2.30,"e":0.04},{"x":172.5,"y":2.28,"e":0.04},{"x":173.5,"y":2.18,"e":0.04},{"x":174.5,"y":2.06,"e":0.04},{"x":175.5,"y":1.98,"e":0.04},{"x":176.5,"y":1.85,"e":0.04},{"x":177.5,"y":1.81,"e":0.04},{"x":178.5,"y":1.75,"e":0.04},{"x":179.5,"y":1.61,"e":0.04},{"x":180.5,"y":1.57,"e":0.04},{"x":181.5,"y":1.51,"e":0.04},{"x":182.5,"y":1.45,"e":0.04},{"x":183.5,"y":1.33,"e":0.04},{"x":184.5,"y":1.20,"e":0.04},{"x":185.5,"y":1.20,"e":0.04},{"x":186.5,"y":1.12,"e":0.04},{"x":187.5,"y":0.94,"e":0.04},{"x":188.5,"y":0.82,"e":0.05},{"x":189.5,"y":0.80,"e":0.05},{"x":190.5,"y":0.58,"e":0.05},{"x":191.5,"y":0.52,"e":0.05},{"x":192.5,"y":0.39,"e":0.06},{"x":193.5,"y":0.37,"e":0.06},{"x":194.5,"y":0.15,"e":0.07},{"x":195.5,"y":0.10,"e":0.08},{"x":196.5,"y":0.06,"e":0.08},{"x":197.5,"y":0.15,"e":0.1}],
"dL": [{"x":140.5,"y":4.0},{"x":141.5,"y":4.28},{"x":142.5,"y":4.37},{"x":143.5,"y":4.41},{"x":144.5,"y":4.0},{"x":145.5,"y":4.30},{"x":146.5,"y":4.17},{"x":147.5,"y":3.91},{"x":148.5,"y":3.98},{"x":149.5,"y":4.04},{"x":150.5,"y":3.96},{"x":151.5,"y":4.0},{"x":152.5,"y":3.83},{"x":153.5,"y":3.87},{"x":154.5,"y":3.64},{"x":155.5,"y":3.59},{"x":156.5,"y":3.63},{"x":157.5,"y":3.44},{"x":158.5,"y":3.42},{"x":159.5,"y":3.35},{"x":160.5,"y":3.29},{"x":161.5,"y":3.24},{"x":162.5,"y":3.17},{"x":163.5,"y":3.10},{"x":164.5,"y":3.01},{"x":165.5,"y":2.84},{"x":166.5,"y":2.78},{"x":167.5,"y":2.69},{"x":168.5,"y":2.65},{"x":170.5,"y":2.50},{"x":172.5,"y":2.33},{"x":174.5,"y":2.13},{"x":176.5,"y":1.96},{"x":178.5,"y":1.78},{"x":180.5,"y":1.62},{"x":182.5,"y":1.46},{"x":184.5,"y":1.29},{"x":186.5,"y":1.10},{"x":188.5,"y":0.92},{"x":190.5,"y":0.75},{"x":192.5,"y":0.57},{"x":194.5,"y":0.39},{"x":195.5,"y":0.26},{"x":196.5,"y":0.13},{"x":197.5,"y":0.0}],
"dE": [{"x":140.5,"y":4.0,"e":0.45},{"x":141.5,"y":4.28,"e":0.4},{"x":142.5,"y":4.37,"e":0.35},{"x":143.5,"y":4.41,"e":0.35},{"x":144.5,"y":4.0,"e":0.25},{"x":145.5,"y":4.30,"e":0.25},{"x":146.5,"y":4.17,"e":0.2},{"x":147.5,"y":3.91,"e":0.15},{"x":148.5,"y":3.98,"e":0.12},{"x":149.5,"y":4.04,"e":0.1},{"x":150.5,"y":3.96,"e":0.1},{"x":151.5,"y":4.0,"e":0.1}],
"dY": [{"x":140,"y":0.02},{"x":140.6,"y":0.04},{"x":144,"y":0.17},{"x":147.5,"y":0.52},{"x":149.2,"y":0.82},{"x":150.9,"y":1.29},{"x":152.7,"y":1.94},{"x":154.4,"y":2.71},{"x":156.1,"y":3.53},{"x":157.8,"y":4.34},{"x":159.6,"y":5.08},{"x":161.3,"y":5.72},{"x":163,"y":6.32},{"x":164.7,"y":6.84},{"x":166.4,"y":7.35},{"x":168.2,"y":7.74},{"x":169.2,"y":7.87},{"x":170.6,"y":7.78},{"x":172.3,"y":7.53},{"x":174,"y":7.10},{"x":175.7,"y":6.58},{"x":177.5,"y":6.06},{"x":179.2,"y":5.46},{"x":180.9,"y":4.86},{"x":182.6,"y":4.26},{"x":184.4,"y":3.66},{"x":186.1,"y":3.05},{"x":187.8,"y":2.45},{"x":189.5,"y":1.85},{"x":191.2,"y":1.33},{"x":193,"y":0.82},{"x":194.7,"y":0.47},{"x":196.4,"y":0.22},{"x":198.1,"y":0.06},{"x":199.5,"y":0},{"x":202.1,"y":0}]
},
"concat": [
{
 "width": 601, "height": 308,
 "resolve": {"axis": {"x": "independent", "y": "independent"}},
 "layer": [
 {
  "encoding": {
   "x": {"field": "x", "type": "quantitative", "title": "A pre (u)", "scale": {"domain": [81.5, 170.5], "nice": false, "zero": false}, "axis": {"orient": "bottom", "values": [90,100,110,120,130,140,150,160,170]}},
   "y": {"field": "y", "type": "quantitative", "title": "Yield", "scale": {"domain": [0, 7], "nice": false, "zero": false}, "axis": {"orient": "left", "values": [0,1,2,3,4,5,6,7]}}
  },
  "layer": [
   {"data": {"name": "aY"}, "mark": {"type": "area", "color": "#fce1f8", "clip": true}},
   {"data": {"name": "aB"}, "mark": {"type": "errorbar", "color": "#0000ff", "opacity": 0.6, "thickness": 2, "clip": true}, "encoding": {"yError": {"field": "e"}}},
   {"data": {"name": "aB"}, "mark": {"type": "tick", "orient": "horizontal", "size": 6.75, "thickness": 2, "color": "#0000ff", "opacity": 0.6, "clip": true}},
   {"data": {"name": "aR"}, "mark": {"type": "errorbar", "color": "#ff0000", "opacity": 0.6, "thickness": 2, "clip": true}, "encoding": {"yError": {"field": "e"}}},
   {"data": {"name": "aR"}, "mark": {"type": "tick", "orient": "horizontal", "size": 6.75, "thickness": 2, "color": "#ff0000", "opacity": 0.6, "clip": true}},
   {"data": {"name": "aB"}, "mark": {"type": "point", "filled": true, "size": 1024, "opacity": 1, "clip": true},
    "encoding": {
     "color": {"datum": "ν̄(A) NDR", "scale": {"domain": ["ν̄(A) NDR", "ν̄(A) NDL", "ν̄(A) SCINTIA", "Y(A) [%]"], "range": ["#0000ff", "#ff0000", "#000000", "#fbd3f5"]},
      "legend": {"title": "²⁵²Cf(sf)", "orient": "none", "legendX": 11, "legendY": 5, "direction": "horizontal", "columns": 2, "columnPadding": 14, "rowPadding": 0, "clipHeight": 30, "symbolSize": 1024, "symbolOffset": -1, "labelOffset": 3, "labelFontSize": 26, "titleFontSize": 26, "titlePadding": 2}},
     "shape": {"datum": "ν̄(A) NDR", "scale": {"domain": ["ν̄(A) NDR", "ν̄(A) NDL", "ν̄(A) SCINTIA", "Y(A) [%]"], "range": ["M-0.16,-0.16H0.16V0.16H-0.16Z", "M-0.13,0A0.13,0.13 0 1,0 0.13,0A0.13,0.13 0 1,0 -0.13,0Z", "stroke", "M-1,-0.69H1V0.69H-1Z"]}},
     "stroke": {"datum": "ν̄(A) NDR", "scale": {"domain": ["ν̄(A) NDR", "ν̄(A) NDL", "ν̄(A) SCINTIA", "Y(A) [%]"], "range": ["transparent", "transparent", "#000000", "transparent"]}}
    }},
   {"data": {"name": "aR"}, "mark": {"type": "circle", "size": 18, "color": "#ff0000", "opacity": 1, "clip": true}},
   {"data": {"name": "aL"}, "mark": {"type": "line", "color": "#000000", "strokeWidth": 1, "clip": true}},
   {"data": {"name": "aE"}, "mark": {"type": "errorbar", "color": "#000000", "opacity": 0.7, "thickness": 1.5, "clip": true}, "encoding": {"yError": {"field": "e"}}}
  ]
 },
 {"data": {"values": [{}]}, "mark": {"type": "text", "font": "Liberation Sans", "fontWeight": "bold", "fontSize": 23, "color": "#6f889e", "align": "center", "baseline": "middle"},
  "encoding": {
   "x": {"datum": 164.7, "type": "quantitative", "axis": {"orient": "bottom", "values": [82,84,86,88,92,94,96,98,102,104,106,108,112,114,116,118,122,124,126,128,132,134,136,138,142,144,146,148,152,154,156,158,162,164,166,168], "labels": false, "domain": false, "title": null, "tickSize": -5}},
   "y": {"datum": 6.64, "type": "quantitative", "axis": {"orient": "left", "values": [0.5,1.5,2.5,3.5,4.5,5.5,6.5], "labels": false, "domain": false, "title": null, "tickSize": -5}},
   "text": {"value": "(a)"}}}
 ]
},
{
 "width": 601, "height": 308,
 "resolve": {"axis": {"x": "independent", "y": "independent"}},
 "layer": [
 {
  "encoding": {
   "x": {"field": "x", "type": "quantitative", "title": "TKE (MeV)", "scale": {"domain": [144, 227], "nice": false, "zero": false}, "axis": {"orient": "bottom", "values": [150,160,170,180,190,200,210,220]}},
   "y": {"field": "y", "type": "quantitative", "title": "Yield", "scale": {"domain": [0, 8], "nice": false, "zero": false}, "axis": {"orient": "left", "values": [0,2,4,6,8]}}
  },
  "layer": [
   {"data": {"name": "bY"}, "mark": {"type": "area", "color": "#fce1f8", "clip": true}},
   {"data": {"name": "bB"}, "mark": {"type": "errorbar", "color": "#0000ff", "opacity": 0.6, "thickness": 2, "clip": true}, "encoding": {"yError": {"field": "e"}}},
   {"data": {"name": "bB"}, "mark": {"type": "tick", "orient": "horizontal", "size": 7.2, "thickness": 2, "color": "#0000ff", "opacity": 0.6, "clip": true}},
   {"data": {"name": "bR"}, "mark": {"type": "errorbar", "color": "#ff0000", "opacity": 0.6, "thickness": 2, "clip": true}, "encoding": {"yError": {"field": "e"}}},
   {"data": {"name": "bR"}, "mark": {"type": "tick", "orient": "horizontal", "size": 7.2, "thickness": 2, "color": "#ff0000", "opacity": 0.6, "clip": true}},
   {"data": {"name": "bB"}, "mark": {"type": "point", "filled": true, "size": 1849, "opacity": 1, "clip": true},
    "encoding": {
     "color": {"datum": "ν̄(TKE) NDR", "scale": {"domain": ["ν̄(TKE) NDR", "ν̄(TKE) NDL", "ν̄(TKE) SCINTIA", "Y(TKE) [%]"], "range": ["#0000ff", "#ff0000", "#000000", "#fbd3f5"]},
      "legend": {"title": "²⁵²Cf(sf)", "orient": "none", "legendX": 358, "legendY": 10, "direction": "vertical", "columns": 1, "rowPadding": 0, "clipHeight": 34.3, "symbolSize": 1849, "symbolOffset": 1.5, "labelOffset": 10, "labelFontSize": 24, "titleFontSize": 24, "titlePadding": 7}},
     "shape": {"datum": "ν̄(TKE) NDR", "scale": {"domain": ["ν̄(TKE) NDR", "ν̄(TKE) NDL", "ν̄(TKE) SCINTIA", "Y(TKE) [%]"], "range": ["M-0.12,-0.12H0.12V0.12H-0.12Z", "M-0.1,0A0.1,0.1 0 1,0 0.1,0A0.1,0.1 0 1,0 -0.1,0Z", "stroke", "M-1,-0.58H1V0.58H-1Z"]}},
     "stroke": {"datum": "ν̄(TKE) NDR", "scale": {"domain": ["ν̄(TKE) NDR", "ν̄(TKE) NDL", "ν̄(TKE) SCINTIA", "Y(TKE) [%]"], "range": ["transparent", "transparent", "#000000", "transparent"]}}
    }},
   {"data": {"name": "bR"}, "mark": {"type": "circle", "size": 18, "color": "#ff0000", "opacity": 1, "clip": true}},
   {"data": {"name": "bL"}, "mark": {"type": "line", "color": "#000000", "strokeWidth": 1, "clip": true}},
   {"data": {"name": "bE"}, "mark": {"type": "errorbar", "color": "#000000", "opacity": 0.7, "thickness": 1.5, "clip": true}, "encoding": {"yError": {"field": "e"}}}
  ]
 },
 {"data": {"values": [{}]}, "mark": {"type": "text", "font": "Liberation Sans", "fontWeight": "bold", "fontSize": 23, "color": "#6f889e", "align": "center", "baseline": "middle"},
  "encoding": {
   "x": {"datum": 147.8, "type": "quantitative", "axis": {"orient": "bottom", "values": [146,148,152,154,156,158,162,164,166,168,172,174,176,178,182,184,186,188,192,194,196,198,202,204,206,208,212,214,216,218,222,224,226], "labels": false, "domain": false, "title": null, "tickSize": -5}},
   "y": {"datum": 0.51, "type": "quantitative", "axis": {"orient": "left", "values": [0.5,1,1.5,2.5,3,3.5,4.5,5,5.5,6.5,7,7.5], "labels": false, "domain": false, "title": null, "tickSize": -5}},
   "text": {"value": "(b)"}}}
 ]
},
{
 "width": 601, "height": 310,
 "resolve": {"axis": {"x": "independent", "y": "independent"}},
 "layer": [
 {
  "encoding": {
   "x": {"field": "x", "type": "quantitative", "title": "A pre (u)", "scale": {"domain": [73.5, 161.5], "nice": false, "zero": false}, "axis": {"orient": "bottom", "values": [80,90,100,110,120,130,140,150,160]}},
   "y": {"field": "y", "type": "quantitative", "title": "Yield", "scale": {"domain": [0, 4.61], "nice": false, "zero": false}, "axis": {"orient": "left", "values": [0,1,2,3,4]}}
  },
  "layer": [
   {"data": {"name": "cY"}, "mark": {"type": "area", "color": "#fce1f8", "clip": true}},
   {"data": {"name": "cB"}, "mark": {"type": "errorbar", "color": "#0000ff", "opacity": 0.6, "thickness": 2, "clip": true}, "encoding": {"yError": {"field": "e"}}},
   {"data": {"name": "cB"}, "mark": {"type": "tick", "orient": "horizontal", "size": 6.8, "thickness": 2, "color": "#0000ff", "opacity": 0.6, "clip": true}},
   {"data": {"name": "cR"}, "mark": {"type": "errorbar", "color": "#ff0000", "opacity": 0.6, "thickness": 2, "clip": true}, "encoding": {"yError": {"field": "e"}}},
   {"data": {"name": "cR"}, "mark": {"type": "tick", "orient": "horizontal", "size": 6.8, "thickness": 2, "color": "#ff0000", "opacity": 0.6, "clip": true}},
   {"data": {"name": "cB"}, "mark": {"type": "point", "filled": true, "size": 1369, "opacity": 1, "clip": true},
    "encoding": {
     "color": {"datum": "ν̄(A) NDR", "scale": {"domain": ["ν̄(A) NDR", "ν̄(A) NDL", "ν̄(A) SCINTIA", "Y(A)*0.5 [%]"], "range": ["#0000ff", "#ff0000", "#000000", "#fbd3f5"]},
      "legend": {"title": "²³⁵U(nₜₕ,f)", "orient": "none", "legendX": 10, "legendY": 8, "direction": "horizontal", "columns": 2, "columnPadding": 12.5, "rowPadding": 0, "clipHeight": 32, "symbolSize": 1369, "symbolOffset": -1.5, "labelOffset": 3, "labelFontSize": 27, "titleFontSize": 27, "titlePadding": 2}},
     "shape": {"datum": "ν̄(A) NDR", "scale": {"domain": ["ν̄(A) NDR", "ν̄(A) NDL", "ν̄(A) SCINTIA", "Y(A)*0.5 [%]"], "range": ["M-0.135,-0.135H0.135V0.135H-0.135Z", "M-0.114,0A0.114,0.114 0 1,0 0.114,0A0.114,0.114 0 1,0 -0.114,0Z", "stroke", "M-1,-0.73H1V0.73H-1Z"]}},
     "stroke": {"datum": "ν̄(A) NDR", "scale": {"domain": ["ν̄(A) NDR", "ν̄(A) NDL", "ν̄(A) SCINTIA", "Y(A)*0.5 [%]"], "range": ["transparent", "transparent", "#000000", "transparent"]}}
    }},
   {"data": {"name": "cR"}, "mark": {"type": "circle", "size": 18, "color": "#ff0000", "opacity": 1, "clip": true}},
   {"data": {"name": "cL"}, "mark": {"type": "line", "color": "#000000", "strokeWidth": 1, "clip": true}},
   {"data": {"name": "cE"}, "mark": {"type": "errorbar", "color": "#000000", "opacity": 0.7, "thickness": 1.5, "clip": true}, "encoding": {"yError": {"field": "e"}}}
  ]
 },
 {"data": {"values": [{}]}, "mark": {"type": "text", "font": "Liberation Sans", "fontWeight": "bold", "fontSize": 23, "color": "#6f889e", "align": "center", "baseline": "middle"},
  "encoding": {
   "x": {"datum": 154.9, "type": "quantitative", "axis": {"orient": "bottom", "values": [74,76,78,82,84,86,88,92,94,96,98,102,104,106,108,112,114,116,118,122,124,126,128,132,134,136,138,142,144,146,148,152,154,156,158], "labels": false, "domain": false, "title": null, "tickSize": -5}},
   "y": {"datum": 4.36, "type": "quantitative", "axis": {"orient": "left", "values": [0.5,1.5,2.5,3.5,4.5], "labels": false, "domain": false, "title": null, "tickSize": -5}},
   "text": {"value": "(c)"}}}
 ]
},
{
 "width": 601, "height": 310,
 "resolve": {"axis": {"x": "independent", "y": "independent"}},
 "layer": [
 {
  "encoding": {
   "x": {"field": "x", "type": "quantitative", "title": "TKE (MeV)", "scale": {"domain": [140, 202.1], "nice": false, "zero": false}, "axis": {"orient": "bottom", "values": [140,150,160,170,180,190,200]}},
   "y": {"field": "y", "type": "quantitative", "title": "Yield", "scale": {"domain": [0, 8], "nice": false, "zero": false}, "axis": {"orient": "left", "values": [0,2,4,6,8]}}
  },
  "layer": [
   {"data": {"name": "dY"}, "mark": {"type": "area", "color": "#fce1f8", "clip": true}},
   {"data": {"name": "dB"}, "mark": {"type": "errorbar", "color": "#0000ff", "opacity": 0.6, "thickness": 2, "clip": true}, "encoding": {"yError": {"field": "e"}}},
   {"data": {"name": "dB"}, "mark": {"type": "tick", "orient": "horizontal", "size": 9.6, "thickness": 2, "color": "#0000ff", "opacity": 0.6, "clip": true}},
   {"data": {"name": "dR"}, "mark": {"type": "errorbar", "color": "#ff0000", "opacity": 0.6, "thickness": 2, "clip": true}, "encoding": {"yError": {"field": "e"}}},
   {"data": {"name": "dR"}, "mark": {"type": "tick", "orient": "horizontal", "size": 9.6, "thickness": 2, "color": "#ff0000", "opacity": 0.6, "clip": true}},
   {"data": {"name": "dB"}, "mark": {"type": "point", "filled": true, "size": 1521, "opacity": 1, "clip": true},
    "encoding": {
     "color": {"datum": "ν̄(TKE) NDR", "scale": {"domain": ["ν̄(TKE) NDR", "ν̄(TKE) NDL", "ν̄(TKE) SCINTIA", "Y(TKE) [%]"], "range": ["#0000ff", "#ff0000", "#000000", "#fbd3f5"]},
      "legend": {"title": "²³⁵U(nₜₕ,f)", "orient": "none", "legendX": 381, "legendY": 9, "direction": "vertical", "columns": 1, "rowPadding": 0, "clipHeight": 30, "symbolSize": 1521, "symbolOffset": 2.5, "labelOffset": 5, "labelFontSize": 22, "titleFontSize": 22, "titlePadding": 6}},
     "shape": {"datum": "ν̄(TKE) NDR", "scale": {"domain": ["ν̄(TKE) NDR", "ν̄(TKE) NDL", "ν̄(TKE) SCINTIA", "Y(TKE) [%]"], "range": ["M-0.154,-0.154H0.154V0.154H-0.154Z", "M-0.123,0A0.123,0.123 0 1,0 0.123,0A0.123,0.123 0 1,0 -0.123,0Z", "stroke", "M-1,-0.54H1V0.54H-1Z"]}},
     "stroke": {"datum": "ν̄(TKE) NDR", "scale": {"domain": ["ν̄(TKE) NDR", "ν̄(TKE) NDL", "ν̄(TKE) SCINTIA", "Y(TKE) [%]"], "range": ["transparent", "transparent", "#000000", "transparent"]}}
    }},
   {"data": {"name": "dR"}, "mark": {"type": "circle", "size": 22, "color": "#ff0000", "opacity": 1, "clip": true}},
   {"data": {"name": "dL"}, "mark": {"type": "line", "color": "#000000", "strokeWidth": 1, "clip": true}},
   {"data": {"name": "dE"}, "mark": {"type": "errorbar", "color": "#000000", "opacity": 0.7, "thickness": 1.5, "clip": true}, "encoding": {"yError": {"field": "e"}}}
  ]
 },
 {"data": {"values": [{}]}, "mark": {"type": "text", "font": "Liberation Sans", "fontWeight": "bold", "fontSize": 23, "color": "#6f889e", "align": "center", "baseline": "middle"},
  "encoding": {
   "x": {"datum": 143.4, "type": "quantitative", "axis": {"orient": "bottom", "values": [142,144,146,148,152,154,156,158,162,164,166,168,172,174,176,178,182,184,186,188,192,194,196,198,202], "labels": false, "domain": false, "title": null, "tickSize": -5}},
   "y": {"datum": 7.57, "type": "quantitative", "axis": {"orient": "left", "values": [0.5,1,1.5,2.5,3,3.5,4.5,5,5.5,6.5,7,7.5], "labels": false, "domain": false, "title": null, "tickSize": -5}},
   "text": {"value": "(d)"}}}
 ]
}
]
}
